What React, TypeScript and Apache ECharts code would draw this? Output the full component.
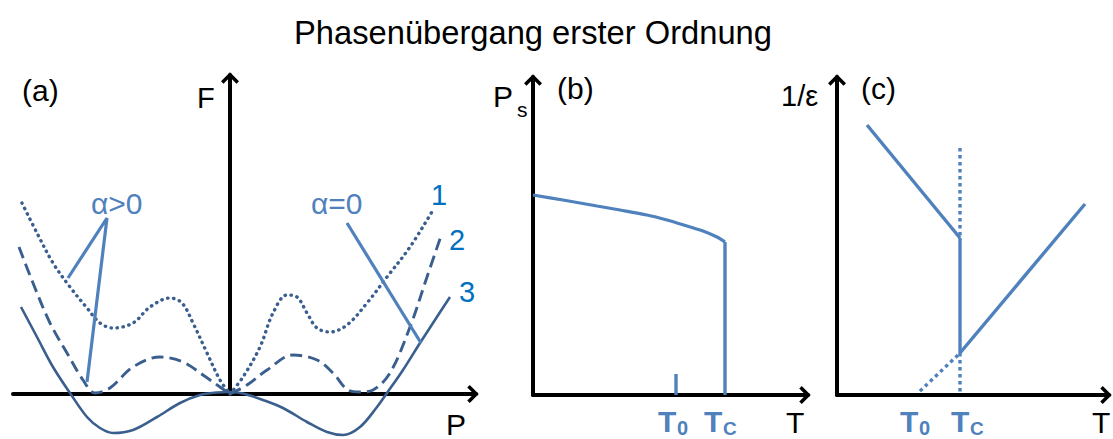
import React, { useEffect, useRef } from "react";
import * as echarts from "echarts";

const FONT = "'Liberation Sans', Arial, sans-serif";
const DARK = "#3A5F8E";
const MID = "#4F81BD";
const BRIGHT = "#0070C0";

// ---------- Panel (a): Landau free energy F(P) ----------
// curve 1 (dotted)
const curve1Left: [number, number][] = [
  [-2.08, 1.91], [-1.93, 1.61], [-1.77, 1.31], [-1.6, 1.07], [-1.43, 0.86],
  [-1.3, 0.71], [-1.17, 0.66], [-0.97, 0.71], [-0.8, 0.87], [-0.6, 0.96],
  [-0.48, 0.91], [-0.37, 0.71], [-0.23, 0.41], [-0.1, 0.14], [0, 0],
];
const curve1Right: [number, number][] = [
  [0, 0], [0.13, 0.17], [0.3, 0.47], [0.43, 0.81], [0.57, 0.99], [0.67, 0.97],
  [0.77, 0.81], [0.87, 0.66], [1.0, 0.62], [1.17, 0.69], [1.37, 0.91],
  [1.57, 1.17], [1.8, 1.47], [2.03, 1.84],
];
// curve 2 (dashed)
const curve2Left: [number, number][] = [
  [-2.11, 1.47], [-1.97, 1.11], [-1.8, 0.71], [-1.63, 0.41], [-1.47, 0.14],
  [-1.35, 0.01], [-1.2, 0.06], [-0.97, 0.27], [-0.7, 0.37], [-0.47, 0.32],
  [-0.27, 0.19], [-0.1, 0.07], [0, 0],
];
const curve2Right: [number, number][] = [
  [0, 0], [0.17, 0.09], [0.37, 0.24], [0.63, 0.39], [0.87, 0.34], [1.03, 0.21],
  [1.18, 0.04], [1.3, 0.02], [1.43, 0.04], [1.6, 0.21], [1.8, 0.67],
  [1.97, 1.17], [2.12, 1.61],
];
// curve 3 (solid)
const curve3: [number, number][] = [
  [-2.09, 0.87], [-1.93, 0.57], [-1.77, 0.27], [-1.6, 0.01], [-1.43, -0.23],
  [-1.3, -0.34], [-1.17, -0.39], [-0.97, -0.36], [-0.73, -0.23], [-0.5, -0.09],
  [-0.3, -0.01], [-0.13, 0.015], [0, 0.02], [0.13, 0.005], [0.33, -0.06],
  [0.53, -0.14], [0.77, -0.28], [0.97, -0.38], [1.13, -0.41], [1.3, -0.33],
  [1.47, -0.13], [1.57, 0.01], [1.73, 0.24], [1.9, 0.51], [2.03, 0.71], [2.2, 0.97],
];
// pointer lines for the alpha labels
const alphaPosPointer: [number, number][] = [[-1.62, 1.16], [-1.23, 1.76], [-1.43, 0.12]];
const alphaZeroPointer: [number, number][] = [[1.17, 1.71], [1.91, 0.51]];

// ---------- Panel (b): spontaneous polarisation Ps(T) ----------
const T0_B = 1.43;
const TC_B = 1.92;
const psCurve: [number, number][] = [
  [0, 2.0], [0.3, 1.95], [0.64, 1.89], [0.87, 1.85], [1.14, 1.8], [1.34, 1.75],
  [1.54, 1.69], [1.7, 1.64], [1.84, 1.58], [TC_B, 1.53],
];
const psDrop: [number, number][] = [[TC_B, 1.53], [TC_B, 0]];
const t0Tick: [number, number][] = [[T0_B, 0], [T0_B, 0.21]];

// ---------- Panel (c): inverse permittivity 1/eps(T) ----------
const T0_C = 0.82;
const TC_C = 1.23;
const epsBelow: [number, number][] = [[0.3, 2.7], [TC_C, 1.57]];
const epsJump: [number, number][] = [[TC_C, 1.57], [TC_C, 0.42]];
const epsAbove: [number, number][] = [[TC_C, 0.42], [2.48, 1.91]];
const tcGuideUpper: [number, number][] = [[TC_C, 2.47], [TC_C, 1.57]];
const tcGuideLower: [number, number][] = [[TC_C, 0.42], [TC_C, 0]];
const curieWeissExtrap: [number, number][] = [[1.21, 0.4], [T0_C, 0.03]];

// open chevron used as the axis arrow head
const CHEVRON = "path://M9,0 L18,9 L15.5,11.5 L9,5 L2.5,11.5 L0,9 Z";

function axis(min: number, max: number) {
  return {
    type: "value",
    min,
    max,
    axisLine: {
      show: true,
      onZero: true,
      symbol: ["none", CHEVRON],
      symbolSize: [18, 11.5],
      symbolOffset: [0, -3],
      lineStyle: { color: "#000", width: 4 },
    },
    axisTick: { show: false },
    axisLabel: { show: false },
    splitLine: { show: false },
  };
}

function line(
  data: [number, number][],
  idx: number,
  color: string,
  width: number,
  type: any = "solid",
  smooth: boolean | number = false,
  cap = "butt"
) {
  return {
    type: "line",
    xAxisIndex: idx,
    yAxisIndex: idx,
    data,
    smooth,
    symbol: "none",
    clip: false,
    silent: true,
    lineStyle: { color, width, type, cap },
    z: 3,
  };
}

function txt(
  text: string,
  x: number,
  y: number,
  size: number,
  color = "#000",
  weight = "normal",
  align = "left"
) {
  return {
    type: "text",
    x,
    y,
    silent: true,
    z: 10,
    style: {
      text,
      fill: color,
      font: `${weight} ${size}px ${FONT}`,
      textAlign: align,
      textVerticalAlign: "middle",
    },
  };
}

export default function App() {
  const ref = useRef<HTMLDivElement>(null);

  useEffect(() => {
    if (!ref.current) return;
    const chart = echarts.init(ref.current, undefined, { renderer: "svg" });
    chart.setOption({
      animation: false,
      backgroundColor: "#fff",
      grid: [
        { left: 13, top: 75, width: 463, height: 319 },
        { left: 533, top: 77, width: 275, height: 318 },
        { left: 837, top: 77, width: 272, height: 318 },
      ],
      xAxis: [
        { ...axis(-2.17, 2.46), gridIndex: 0 },
        { ...axis(0, 2.75), gridIndex: 1 },
        { ...axis(0, 2.72), gridIndex: 2 },
      ],
      yAxis: [
        { ...axis(0, 3.19), gridIndex: 0 },
        { ...axis(0, 3.18), gridIndex: 1 },
        { ...axis(0, 3.18), gridIndex: 2 },
      ],
      series: [
        line(curve1Left, 0, DARK, 3.4, [0.4, 5.6], 0.35, "round"),
        line(curve1Right, 0, DARK, 3.4, [0.4, 5.6], 0.35, "round"),
        line(curve2Left, 0, DARK, 2.9, [12, 6], 0.35),
        line(curve2Right, 0, DARK, 2.9, [12, 6], 0.35),
        line(curve3, 0, DARK, 2.6, "solid", 0.35),
        line(alphaPosPointer, 0, MID, 3.2),
        line(alphaZeroPointer, 0, MID, 3.2),

        line(psCurve, 1, MID, 3.2, "solid", 0.3),
        line(psDrop, 1, MID, 3.4),
        line(t0Tick, 1, MID, 3.4),

        line(epsBelow, 2, MID, 3.4),
        line(epsJump, 2, MID, 3.4),
        line(epsAbove, 2, MID, 3.4),
        line(tcGuideUpper, 2, MID, 3.4, [3.5, 3.5]),
        line(tcGuideLower, 2, MID, 3.4, [3.5, 3.5]),
        line(curieWeissExtrap, 2, MID, 3.4, [3.5, 3.5]),
      ],
      graphic: [
        txt("Phasenübergang erster Ordnung", 533, 32, 32.7, "#000", "normal", "center"),

        txt("(a)", 22, 90, 30),
        txt("F", 197, 98, 29),
        txt("P", 446, 424, 30),
        txt("α>0", 91, 203, 30, MID),
        txt("α=0", 311, 203, 30, MID),
        txt("1", 439, 195, 29, BRIGHT, "normal", "center"),
        txt("2", 457, 240, 29, BRIGHT, "normal", "center"),
        txt("3", 467, 292, 29, BRIGHT, "normal", "center"),

        txt("P", 493, 96, 30),
        txt("s", 517, 109, 21),
        txt("(b)", 557, 88, 30),
        txt("T", 658, 421, 30, MID, "bold"),
        txt("0", 677, 428, 20, MID, "bold"),
        txt("T", 704, 421, 30, MID, "bold"),
        txt("C", 723, 428, 19, MID, "bold"),
        txt("T", 786, 422, 30),

        txt("1/ε", 781, 96, 29),
        txt("(c)", 861, 88, 30),
        txt("T", 900, 421, 30, MID, "bold"),
        txt("0", 919, 428, 20, MID, "bold"),
        txt("T", 951, 421, 30, MID, "bold"),
        txt("C", 970, 428, 19, MID, "bold"),
        txt("T", 1092, 422, 30),
      ],
    });
    return () => chart.dispose();
  }, []);

  return (
    <div
      ref={ref}
      style={{ position: "absolute", left: 0, top: 0, width: 1113, height: 439 }}
    />
  );
}
